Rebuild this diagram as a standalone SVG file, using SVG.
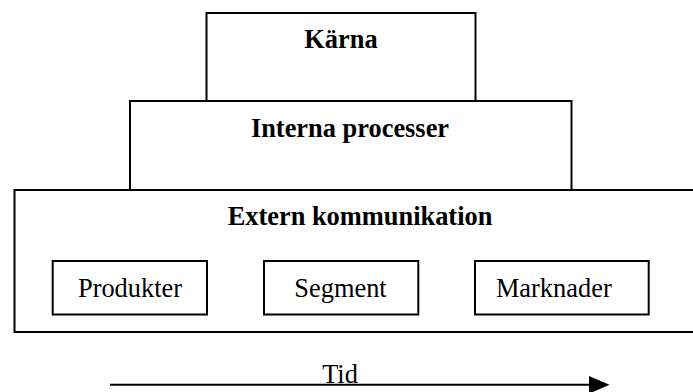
<svg xmlns="http://www.w3.org/2000/svg" width="693" height="392" viewBox="0 0 693 392">
  <defs>
    <style>
      .box { fill: #ffffff; stroke: #000000; stroke-width: 2; }
      .title { font-family: "Liberation Serif", "Times New Roman", serif; font-size: 26.4px; font-weight: bold; fill: #000000; text-anchor: middle; }
      .label { font-family: "Liberation Serif", "Times New Roman", serif; font-size: 26.4px; fill: #000000; text-anchor: middle; }
      .conn { stroke: #000000; stroke-width: 2; fill: none; }
    </style>
  </defs>
  <rect width="693" height="392" fill="#ffffff"/>

  <g id="karna">
    <rect class="box" x="206.5" y="13" width="269" height="88"/>
    <text class="title" x="341" y="47.5">Kärna</text>
  </g>

  <g id="interna-processer">
    <rect class="box" x="130" y="101" width="441.5" height="89"/>
    <text class="title" x="350" y="136.5">Interna processer</text>
  </g>

  <g id="extern-kommunikation">
    <rect class="box" x="14.5" y="190" width="720" height="142"/>
    <text class="title" x="360" y="225">Extern kommunikation</text>
  </g>

  <g id="produkter">
    <rect class="box" x="52.7" y="261" width="154.3" height="53.5"/>
    <text class="label" x="130" y="296.7">Produkter</text>
  </g>

  <g id="segment">
    <rect class="box" x="264" y="261" width="154.3" height="53.5"/>
    <text class="label" x="340.5" y="296.7">Segment</text>
  </g>

  <g id="marknader">
    <rect class="box" x="475" y="261" width="173.7" height="53.5"/>
    <text class="label" x="553.8" y="296.7">Marknader</text>
  </g>

  <g id="connectors">
    <line class="conn" x1="110" y1="384.8" x2="592" y2="384.8"/>
    <polygon points="589,376 609.5,384.8 589,393.6" fill="#000000"/>
  </g>

  <g id="tid">
    <text class="label" x="340" y="383">Tid</text>
  </g>
</svg>
